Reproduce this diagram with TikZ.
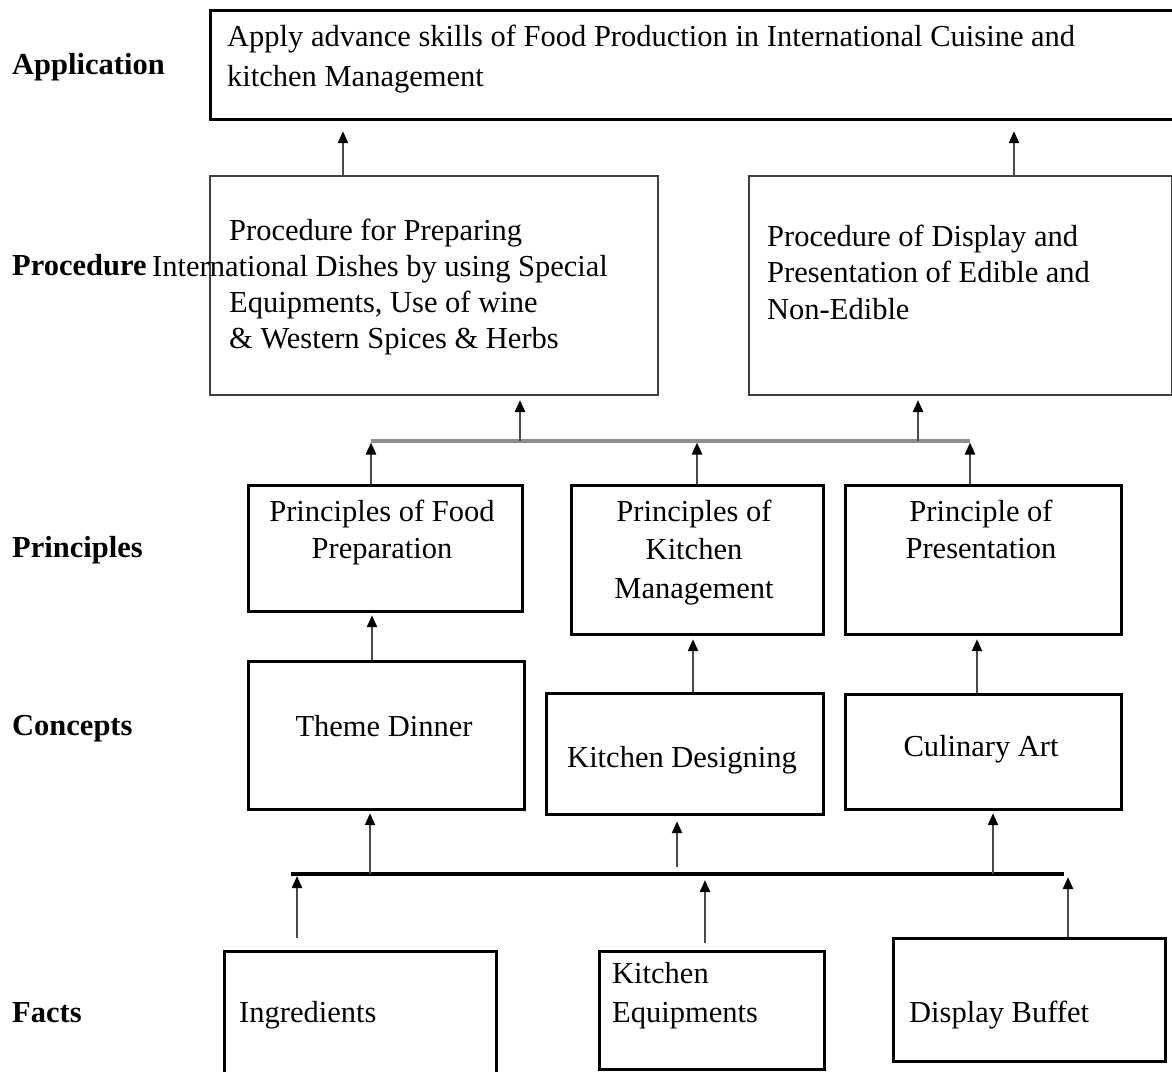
\documentclass[tikz,border=0pt]{standalone}
\usepackage{fontspec}
\setmainfont{Liberation Serif}
\usetikzlibrary{arrows.meta}

% stacked lines whose baseline is the first line
\newcommand\lefttext[1]{\vtop{\halign{##\hfil\cr#1\crcr}}}
\newcommand\midtext[1]{\vtop{\halign{\hfil##\hfil\cr#1\crcr}}}

\definecolor{shaft}{HTML}{4A4A4A}
\definecolor{busgray}{HTML}{8E8E8E}
\definecolor{procedge}{HTML}{404040}

\tikzset{
  boxnode/.style={draw=black, line width=3.2pt, rectangle, inner sep=0pt, anchor=north west},
  procnode/.style={draw=procedge, line width=2pt, rectangle, inner sep=0pt, anchor=north west},
  txt/.style={inner sep=0pt, anchor=base west, font=\fontsize{30.5}{36}\selectfont},
  ctxt/.style={inner sep=0pt, anchor=base, font=\fontsize{30.5}{36}\selectfont},
  level/.style={inner sep=0pt, anchor=base west, font=\fontsize{30.5}{36}\selectfont\bfseries},
  arr/.style={draw=shaft, line width=2.3pt, -{Triangle[length=12pt, width=10pt, color=black]}},
}

\begin{document}
\begin{tikzpicture}[x=1pt, y=-1pt]
\useasboundingbox (0,0) rectangle (1172,1071);
\clip (0,0) rectangle (1172,1071);
\fill[white] (0,0) rectangle (1172,1071);

% ---- level labels
\node[level] (lapp)  at (12,74)   {Application};
\node[level] (lproc) at (12,275)  {Procedure};
\node[level] (lpri)  at (12,557)  {Principles};
\node[level] (lcon)  at (12,735)  {Concepts};
\node[level] (lfac)  at (12,1022) {Facts};

% ---- boxes
\node[boxnode, minimum width=980pt, minimum height=109pt] (app) at (209,9) {};
\node[procnode, minimum width=448pt, minimum height=219pt] (proc1) at (209,175) {};
\node[procnode, minimum width=423pt, minimum height=219pt] (proc2) at (748,175) {};

\node[boxnode, minimum width=274pt, minimum height=126pt] (p1) at (247,484) {};
\node[boxnode, minimum width=252pt, minimum height=149pt] (p2) at (570,484) {};
\node[boxnode, minimum width=276pt, minimum height=149pt] (p3) at (844,484) {};

\node[boxnode, minimum width=276pt, minimum height=148pt] (c1) at (247,660) {};
\node[boxnode, minimum width=277pt, minimum height=121pt] (c2) at (545,692) {};
\node[boxnode, minimum width=276pt, minimum height=115pt] (c3) at (844,693) {};

\node[boxnode, minimum width=272pt, minimum height=140pt] (f1) at (223,950) {};
\node[boxnode, minimum width=225pt, minimum height=118pt] (f2) at (598,950) {};
\node[boxnode, minimum width=272pt, minimum height=123pt] (f3) at (892,937) {};

% ---- texts
\node[txt, font=\fontsize{30.5}{40}\selectfont] (tapp) at (227,46)
  {\lefttext{Apply advance skills of Food Production in International Cuisine and\cr kitchen Management}};
\node[txt] (tproc1) at (229,240)
  {\lefttext{Procedure for Preparing\cr \kern-77pt International Dishes by using Special\cr Equipments, Use of wine\cr \& Western Spices \& Herbs}};
\node[txt, font=\fontsize{30.5}{36.5}\selectfont] (tproc2) at (767,246)
  {\lefttext{Procedure of Display and\cr Presentation of Edible and\cr Non-Edible}};

\node[ctxt, font=\fontsize{30.5}{37}\selectfont] (tp1) at (382,521) {\midtext{Principles of Food\cr Preparation}};
\node[ctxt, font=\fontsize{30.5}{38.5}\selectfont] (tp2) at (694,521) {\midtext{Principles of\cr Kitchen\cr Management}};
\node[ctxt, font=\fontsize{30.5}{37}\selectfont] (tp3) at (981,521) {\midtext{Principle of\cr Presentation}};

\node[ctxt] (tc1) at (384,736) {Theme Dinner};
\node[ctxt] (tc2) at (682,767) {Kitchen Designing};
\node[ctxt] (tc3) at (981,756) {Culinary Art};

\node[txt] (tf1) at (239,1022) {Ingredients};
\node[txt, font=\fontsize{30.5}{39}\selectfont] (tf2) at (612,983) {\lefttext{Kitchen\cr Equipments}};
\node[txt] (tf3) at (909,1022) {Display Buffet};

% ---- collecting lines
\coordinate (b1L) at (371,441);
\coordinate (b1R) at (970,441);
\coordinate (b2L) at (291,874);
\coordinate (b2R) at (1064,874);
\draw[busgray, line width=3.5pt] (b1L) -- (b1R);
\draw[black, line width=3.5pt] (b2L) -- (b2R);

% ---- procedure -> application
\draw[arr, shorten >=10pt] ([xshift=134pt]proc1.north west) -- ([xshift=134pt]app.south west);
\draw[arr, shorten >=10pt] ([xshift=266pt]proc2.north west) -- ([xshift=805pt]app.south west);

% ---- principles bus -> procedure
\draw[arr, shorten >=4pt] ([xshift=149pt]b1L) -- ([xshift=311pt]proc1.south west);
\draw[arr, shorten >=4pt] ([xshift=547pt]b1L) -- ([xshift=170pt]proc2.south west);

% ---- principles -> bus
\draw[arr, shorten >=1.5pt] ([xshift=124pt]p1.north west) -- (b1L);
\draw[arr, shorten >=1.5pt] ([xshift=127pt]p2.north west) -- ([xshift=326pt]b1L);
\draw[arr, shorten >=1.5pt] ([xshift=126pt]p3.north west) -- (b1R);

% ---- concepts -> principles
\draw[arr, shorten >=2pt] ([xshift=125pt]c1.north west) -- ([xshift=125pt]p1.south west);
\draw[arr, shorten >=3pt] ([xshift=148pt]c2.north west) -- ([xshift=123pt]p2.south west);
\draw[arr, shorten >=3pt] ([xshift=133pt]c3.north west) -- ([xshift=133pt]p3.south west);

% ---- facts bus -> concepts
\draw[arr, shorten >=2pt] ([xshift=79pt]b2L) -- ([xshift=123pt]c1.south west);
\draw[arr, shorten <=7pt, shorten >=5pt] ([xshift=386pt]b2L) -- ([xshift=132pt]c2.south west);
\draw[arr, shorten >=2pt] ([xshift=702pt]b2L) -- ([xshift=149pt]c3.south west);

% ---- facts -> bus
\draw[arr, shorten <=12pt, shorten >=2pt] ([xshift=74pt]f1.north west) -- ([xshift=6pt]b2L);
\draw[arr, shorten <=7pt, shorten >=6pt] ([xshift=107pt]f2.north west) -- ([xshift=414pt]b2L);
\draw[arr, shorten >=3pt] ([xshift=176pt]f3.north west) -- ([xshift=777pt]b2L);
\end{tikzpicture}
\end{document}
